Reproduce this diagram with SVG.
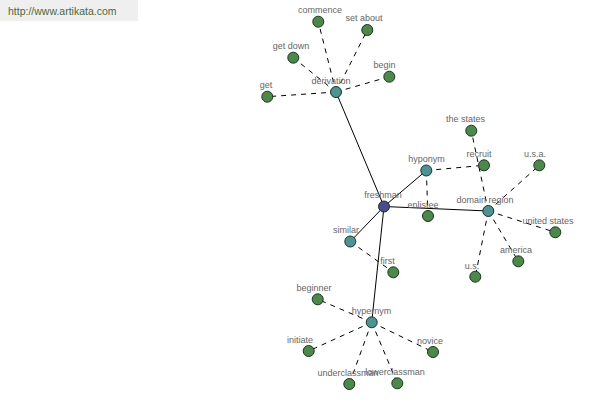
<svg xmlns="http://www.w3.org/2000/svg" width="600" height="400" viewBox="0 0 600 400">
<style>
.e{stroke:#000;stroke-width:1;fill:none}
.d{stroke:#000;stroke-width:1;fill:none;stroke-dasharray:5,5}
.n circle{stroke:#1e321e;stroke-width:1}
.leaf circle{fill:#4a8a48}
.rel circle{fill:#4a9494}
.root circle{fill:#4b4b8f}
.n text{font-family:"Liberation Sans",Arial,sans-serif;font-size:9px;fill:#666;text-anchor:middle}
</style>
<rect x="0" y="0" width="138" height="21" fill="#efefef"/>
<text x="8" y="15" font-family="Liberation Sans,Arial,sans-serif" font-size="10.5" fill="#4a6a3a">http://www.artikata.com</text>
<g id="connectors">
<line class="e" x1="384" y1="206.5" x2="336" y2="92"/>
<line class="e" x1="384" y1="206.5" x2="426.3" y2="170.5"/>
<line class="e" x1="384" y1="206.5" x2="488.3" y2="211"/>
<line class="e" x1="384" y1="206.5" x2="350.3" y2="241.5"/>
<line class="e" x1="384" y1="206.5" x2="371.7" y2="322.3"/>
<line class="d" x1="336" y1="92" x2="318.3" y2="21.7"/>
<line class="d" x1="336" y1="92" x2="367.3" y2="30"/>
<line class="d" x1="336" y1="92" x2="293.3" y2="57.7"/>
<line class="d" x1="336" y1="92" x2="389.3" y2="76.7"/>
<line class="d" x1="336" y1="92" x2="267.3" y2="96.7"/>
<line class="d" x1="426.3" y1="170.5" x2="484" y2="165.3"/>
<line class="d" x1="426.3" y1="170.5" x2="428" y2="216"/>
<line class="d" x1="488.3" y1="211" x2="471.3" y2="130.7"/>
<line class="d" x1="488.3" y1="211" x2="539.3" y2="165.3"/>
<line class="d" x1="488.3" y1="211" x2="555.3" y2="232.3"/>
<line class="d" x1="488.3" y1="211" x2="518.3" y2="261.3"/>
<line class="d" x1="488.3" y1="211" x2="475.3" y2="276.7"/>
<line class="d" x1="350.3" y1="241.5" x2="393.3" y2="272.3"/>
<line class="d" x1="371.7" y1="322.3" x2="317.7" y2="299.3"/>
<line class="d" x1="371.7" y1="322.3" x2="308.7" y2="351"/>
<line class="d" x1="371.7" y1="322.3" x2="433" y2="352"/>
<line class="d" x1="371.7" y1="322.3" x2="349.3" y2="384"/>
<line class="d" x1="371.7" y1="322.3" x2="397.3" y2="383.3"/>
</g>
<g id="freshman" class="n root"><circle cx="384" cy="206.5" r="5.5"/><text x="383" y="198">freshman</text></g>
<g id="derivation" class="n rel"><circle cx="336" cy="92" r="5.5"/><text x="331" y="84">derivation</text></g>
<g id="hyponym" class="n rel"><circle cx="426.3" cy="170.5" r="5.5"/><text x="426.5" y="162">hyponym</text></g>
<g id="domain-region" class="n rel"><circle cx="488.3" cy="211" r="5.5"/><text x="485" y="203">domain region</text></g>
<g id="similar" class="n rel"><circle cx="350.3" cy="241.5" r="5.5"/><text x="346" y="233">similar</text></g>
<g id="hypernym" class="n rel"><circle cx="371.7" cy="322.3" r="5.5"/><text x="371.5" y="314">hypernym</text></g>
<g id="commence" class="n leaf"><circle cx="318.3" cy="21.7" r="5.5"/><text x="320" y="12.5">commence</text></g>
<g id="set-about" class="n leaf"><circle cx="367.3" cy="30" r="5.5"/><text x="364" y="20.5">set about</text></g>
<g id="get-down" class="n leaf"><circle cx="293.3" cy="57.7" r="5.5"/><text x="291" y="49">get down</text></g>
<g id="begin" class="n leaf"><circle cx="389.3" cy="76.7" r="5.5"/><text x="384.5" y="68">begin</text></g>
<g id="get" class="n leaf"><circle cx="267.3" cy="96.7" r="5.5"/><text x="266" y="88">get</text></g>
<g id="the-states" class="n leaf"><circle cx="471.3" cy="130.7" r="5.5"/><text x="465.5" y="122">the states</text></g>
<g id="recruit" class="n leaf"><circle cx="484" cy="165.3" r="5.5"/><text x="479" y="157">recruit</text></g>
<g id="usa" class="n leaf"><circle cx="539.3" cy="165.3" r="5.5"/><text x="535" y="157">u.s.a.</text></g>
<g id="enlistee" class="n leaf"><circle cx="428" cy="216" r="5.5"/><text x="423" y="208">enlistee</text></g>
<g id="united-states" class="n leaf"><circle cx="555.3" cy="232.3" r="5.5"/><text x="548" y="224">united states</text></g>
<g id="america" class="n leaf"><circle cx="518.3" cy="261.3" r="5.5"/><text x="516" y="253">america</text></g>
<g id="us" class="n leaf"><circle cx="475.3" cy="276.7" r="5.5"/><text x="472" y="269">u.s.</text></g>
<g id="first" class="n leaf"><circle cx="393.3" cy="272.3" r="5.5"/><text x="387.5" y="264">first</text></g>
<g id="beginner" class="n leaf"><circle cx="317.7" cy="299.3" r="5.5"/><text x="314" y="291">beginner</text></g>
<g id="initiate" class="n leaf"><circle cx="308.7" cy="351" r="5.5"/><text x="300" y="343">initiate</text></g>
<g id="novice" class="n leaf"><circle cx="433" cy="352" r="5.5"/><text x="430" y="344">novice</text></g>
<g id="underclassman" class="n leaf"><circle cx="349.3" cy="384" r="5.5"/><text x="348" y="375.5">underclassman</text></g>
<g id="lowerclassman" class="n leaf"><circle cx="397.3" cy="383.3" r="5.5"/><text x="395" y="375">lowerclassman</text></g>
</svg>
